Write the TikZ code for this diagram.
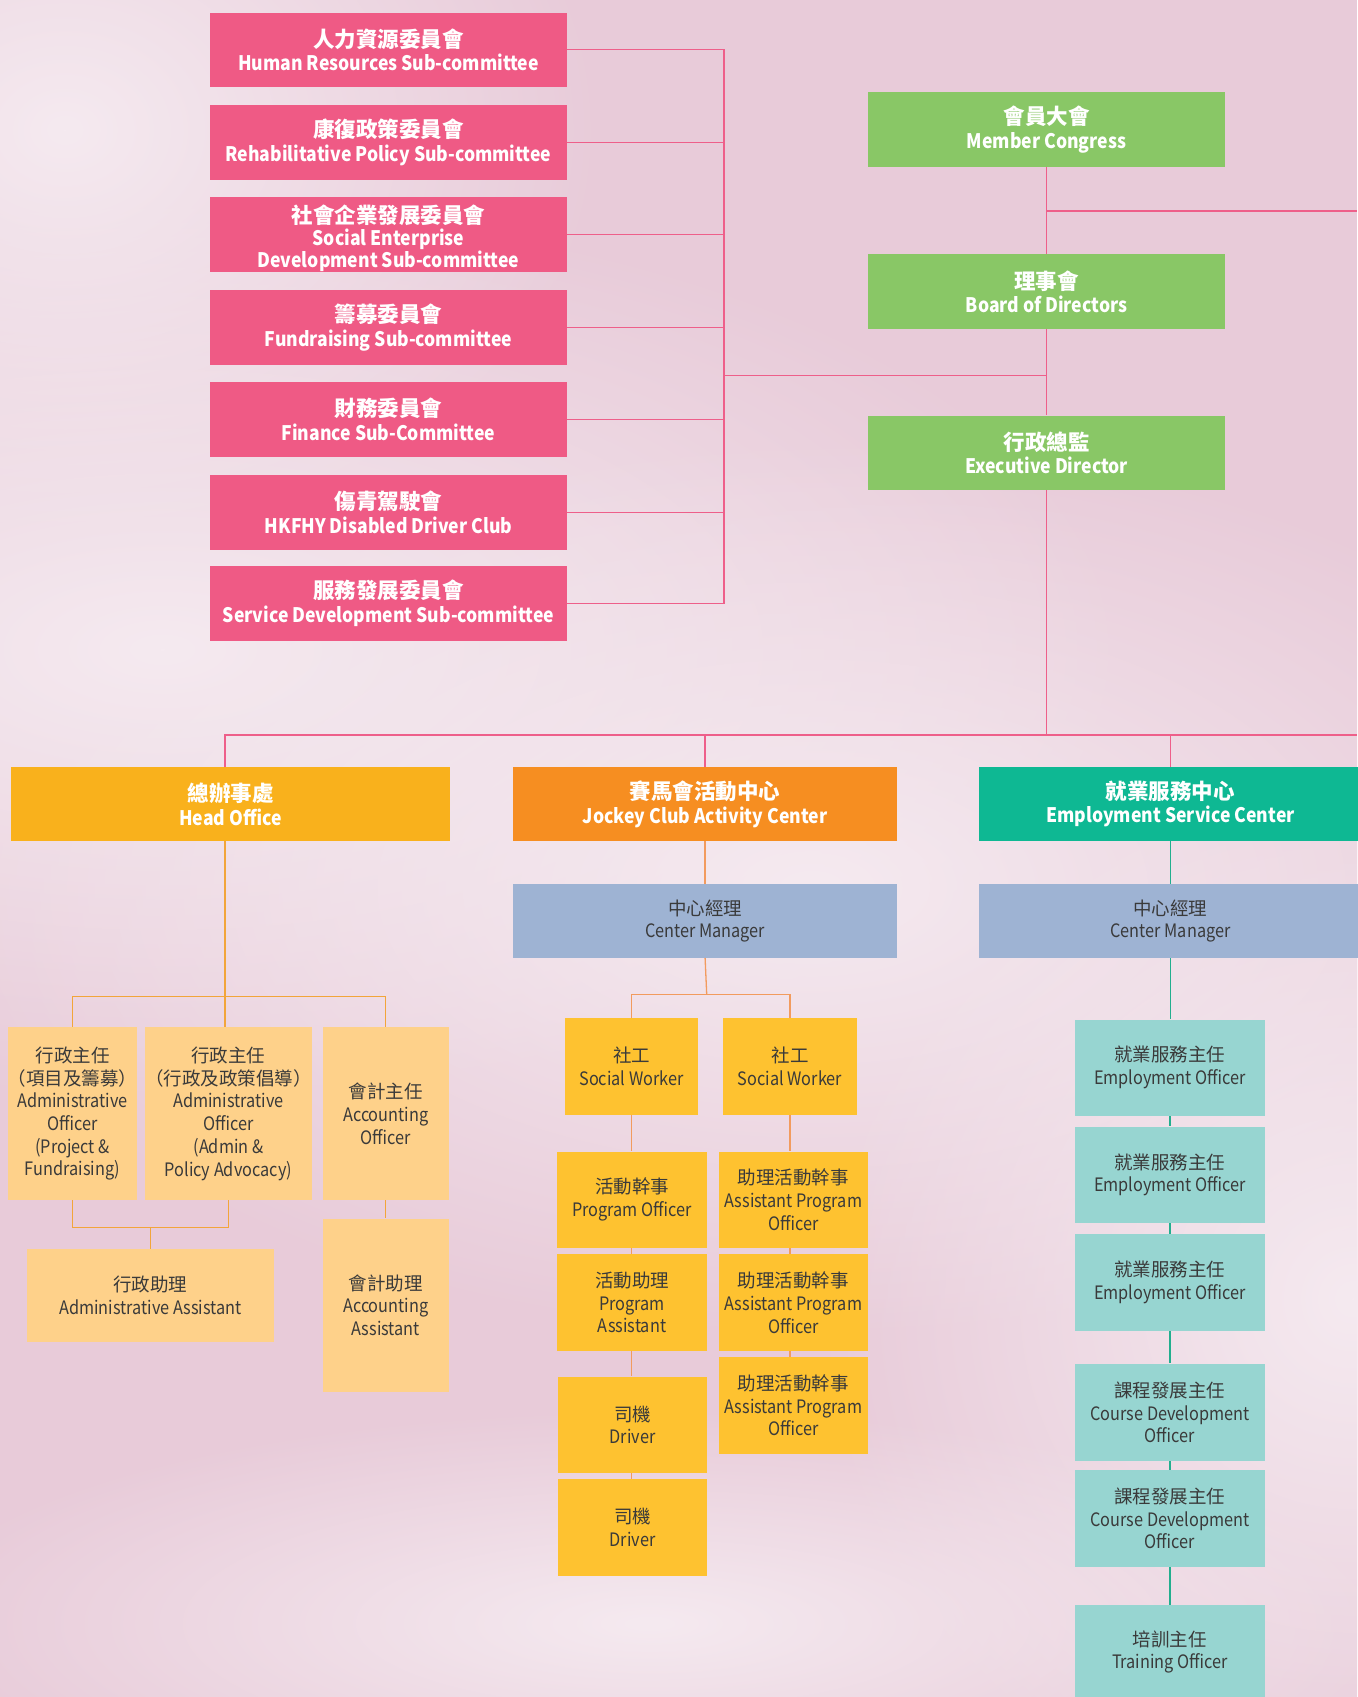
\documentclass[tikz,border=0pt]{standalone}
\usepackage{fontspec}
\setmainfont{Noto Sans CJK TC}
\newfontfamily\en{Noto Sans CJK TC}[FakeStretch=0.88]
\usetikzlibrary{calc,fadings}
\definecolor{bg}{HTML}{E8CBD9}
\definecolor{bgl}{HTML}{F5EAF0}
\definecolor{pinkc}{HTML}{EF5A85}
\definecolor{pinkl}{HTML}{EE5F8A}
\definecolor{greenc}{HTML}{89C766}
\definecolor{hoc}{HTML}{F9B11C}
\definecolor{jcc}{HTML}{F68E21}
\definecolor{esc}{HTML}{0EB893}
\definecolor{cmc}{HTML}{9EB3D3}
\definecolor{lor}{HTML}{FED18A}
\definecolor{yel}{HTML}{FEC230}
\definecolor{lteal}{HTML}{97D5D1}
\definecolor{txt}{HTML}{3A3A3A}
\definecolor{holine}{HTML}{F2A53A}
\definecolor{jcline}{HTML}{F29B5E}
\definecolor{esline}{HTML}{22AE8E}
\tikzfading[name=softfade, inner color=transparent!0, outer color=transparent!100]
\newcommand\bx[7]{\node[#2, minimum width={(#5-#3)*1.0821pt}, minimum height={(#6-#4)*1.0821pt}] (#1) at ({(#3+#5)/2},{(#4+#6)/2}) {#7};}
\newcommand\zb[1]{{\rmfamily\fontsize{21.5}{23.5}\selectfont #1}}
\newcommand\zr[1]{{\rmfamily #1}}
\tikzset{
  box/.style={rectangle, inner sep=0pt, align=center},
  topbox/.style={box, text=white, font=\en\bfseries\fontsize{20}{23.5}\selectfont},
  pinkbox/.style={topbox, fill=pinkc},
  greenbox/.style={topbox, fill=greenc},
  headbox/.style={topbox, fill=#1},
  lowbox/.style={box, text=txt, fill=#1, font=\en\fontsize{18.5}{22.7}\selectfont},
  pline/.style={draw=pinkl, line width=1.3pt},
  hline/.style={draw=holine, line width=1.3pt},
  jline/.style={draw=jcline, line width=1.3pt},
  eline/.style={draw=esline, line width=1.3pt},
  glow/.style={fill=bgl, path fading=softfade}
}
\begin{document}
\begin{tikzpicture}[x=1.0821pt,y=-1.0821pt]
\useasboundingbox (0,0) rectangle (1254,1568);
\fill[bg] (0,0) rectangle (1254,1568);
\fill[glow] (150,600) ellipse (900 and 420);
\fill[glow] (750,820) ellipse (800 and 420);
\fill[glow] (1250,1200) ellipse (500 and 500);
\fill[glow] (60,120) ellipse (500 and 400);
\fill[glow] (600,1500) ellipse (700 and 200);

% pink committees
\bx{hr}{pinkbox}{194}{12}{524}{80}{\zb{人力資源委員會}\\Human Resources Sub-committee}
\bx{rp}{pinkbox}{194}{97}{524}{166}{\zb{康復政策委員會}\\Rehabilitative Policy Sub-committee}
\bx{se}{pinkbox,font=\en\bfseries\fontsize{20}{18.5}\selectfont}{194}{182}{524}{251}{\rule{0pt}{27pt}\zb{社會企業發展委員會}\\[2pt]Social Enterprise\\Development Sub-committee}
\bx{fr}{pinkbox}{194}{268}{524}{337}{\zb{籌募委員會}\\Fundraising Sub-committee}
\bx{fi}{pinkbox}{194}{353}{524}{422}{\zb{財務委員會}\\Finance Sub-Committee}
\bx{dc}{pinkbox}{194}{439}{524}{508}{\zb{傷青駕駛會}\\HKFHY Disabled Driver Club}
\bx{sd}{pinkbox}{194}{523}{524}{592}{\zb{服務發展委員會}\\Service Development Sub-committee}

% green
\bx{mc}{greenbox}{802}{85}{1132}{154}{\zb{會員大會}\\Member Congress}
\bx{bd}{greenbox}{802}{235}{1132}{304}{\zb{理事會}\\Board of Directors}
\bx{ed}{greenbox}{802}{384}{1132}{453}{\zb{行政總監}\\Executive Director}

% heads
\bx{ho}{headbox=hoc}{10}{709}{416}{777}{\zb{總辦事處}\\Head Office}
\bx{jc}{headbox=jcc}{474}{709}{829}{777}{\zb{賽馬會活動中心}\\Jockey Club Activity Center}
\bx{es}{headbox=esc}{905}{709}{1258}{777}{\zb{就業服務中心}\\Employment Service Center}
\bx{cm1}{lowbox=cmc}{474}{817}{829}{885}{\zr{中心經理}\\Center Manager}
\bx{cm2}{lowbox=cmc}{905}{817}{1258}{885}{\zr{中心經理}\\Center Manager}

% head office staff
\bx{aoa}{lowbox=lor}{9}{949}{125}{1109}{\zr{行政主任}\\\zr{（項目及籌募）}\\Administrative\\Officer\\(Project \&\\Fundraising)}
\bx{aob}{lowbox=lor}{136}{949}{286}{1109}{\zr{行政主任}\\\zr{（行政及政策倡導）}\\Administrative\\Officer\\(Admin \&\\Policy Advocacy)}
\bx{aoc}{lowbox=lor}{298}{949}{415}{1109}{\zr{會計主任}\\Accounting\\Officer}
\bx{aa}{lowbox=lor}{25}{1154}{253}{1240}{\zr{行政助理}\\Administrative Assistant}
\bx{acc}{lowbox=lor}{298}{1126}{415}{1286}{\zr{會計助理}\\Accounting\\Assistant}

% jockey club staff
\bx{sw1}{lowbox=yel}{522}{941}{645}{1030}{\zr{社工}\\Social Worker}
\bx{sw2}{lowbox=yel}{668}{941}{792}{1030}{\zr{社工}\\Social Worker}
\bx{po}{lowbox=yel}{515}{1064}{653}{1153}{\zr{活動幹事}\\Program Officer}
\bx{pa}{lowbox=yel}{515}{1159}{653}{1248}{\zr{活動助理}\\Program\\Assistant}
\bx{dr1}{lowbox=yel}{516}{1272}{653}{1361}{\zr{司機}\\Driver}
\bx{dr2}{lowbox=yel}{516}{1367}{653}{1456}{\zr{司機}\\Driver}
\bx{apo1}{lowbox=yel}{664}{1064}{802}{1153}{\zr{助理活動幹事}\\Assistant Program\\Officer}
\bx{apo2}{lowbox=yel}{664}{1159}{802}{1248}{\zr{助理活動幹事}\\Assistant Program\\Officer}
\bx{apo3}{lowbox=yel}{664}{1254}{802}{1343}{\zr{助理活動幹事}\\Assistant Program\\Officer}

% employment staff
\bx{eo1}{lowbox=lteal}{993}{942}{1169}{1031}{\zr{就業服務主任}\\Employment Officer}
\bx{eo2}{lowbox=lteal}{993}{1041}{1169}{1130}{\zr{就業服務主任}\\Employment Officer}
\bx{eo3}{lowbox=lteal}{993}{1140}{1169}{1230}{\zr{就業服務主任}\\Employment Officer}
\bx{cd1}{lowbox=lteal}{993}{1260}{1169}{1350}{\zr{課程發展主任}\\Course Development\\Officer}
\bx{cd2}{lowbox=lteal}{993}{1358}{1169}{1448}{\zr{課程發展主任}\\Course Development\\Officer}
\bx{to}{lowbox=lteal}{993}{1483}{1169}{1570}{\zr{培訓主任}\\Training Officer}

% pink connectors
\coordinate (pv) at (669,347);
\foreach \n in {hr,rp,se,fr,fi,dc,sd} \draw[pline] (\n.east) -| (pv);
\draw[pline] (pv) -- (pv -| bd.south);
\draw[pline] (mc.south) -- (bd.north);
\draw[pline] (bd.south) -- (ed.north);
\coordinate (rt) at (1254,195);
\draw[pline] (rt -| mc.south) -- (rt);
\coordinate (bus) at (1254,679);
\coordinate (hx) at (208,679);
\draw[pline] (ed.south) |- (bus);
\draw[pline] (ho.north -| hx) -- (hx) -- (bus);
\draw[pline] (jc.north) -- (jc.north |- bus);
\draw[pline] (es.north) -- (es.north |- bus);

% head office connectors
\coordinate (hj) at (208,921);
\draw[hline] (ho.south -| hj) -- (hj);
\draw[hline] (aoa.north) |- (hj) -| (aoc.north);
\draw[hline] (hj) -- (hj |- aob.north);
\coordinate (hk) at (139,1134);
\draw[hline] (aoa.south) |- (hk) -| (aob.south);
\draw[hline] (hk) -- (aa.north);
\draw[hline] (aoc.south) -- (acc.north);

% jockey connectors
\draw[jline] (jc.south) -- (cm1.north);
\coordinate (jj) at (653,919);
\draw[jline] (cm1.south) -- (jj);
\draw[jline] (sw1.north) |- (jj) -| (sw2.north);
\draw[jline] (sw1.south) -- (sw1.south |- po.north);
\draw[jline] (po.south -| sw1.south) -- (pa.north -| sw1.south);
\draw[jline] (pa.south -| sw1.south) -- (dr1.north -| sw1.south);
\draw[jline] (dr1.south -| sw1.south) -- (dr2.north -| sw1.south);
\draw[jline] (sw2.south) -- (sw2.south |- apo1.north);
\draw[jline] (apo1.south -| sw2.south) -- (apo2.north -| sw2.south);
\draw[jline] (apo2.south -| sw2.south) -- (apo3.north -| sw2.south);

% employment connectors
\draw[eline] (es.south) -- (cm2.north);
\draw[eline] (cm2.south) -- (cm2.south |- eo1.north);
\draw[eline] (eo1.south) -- (eo2.north);
\draw[eline] (eo2.south) -- (eo3.north);
\draw[eline] (eo3.south) -- (cd1.north);
\draw[eline] (cd1.south) -- (cd2.north);
\draw[eline] (cd2.south) -- (to.north);
\end{tikzpicture}
\end{document}
